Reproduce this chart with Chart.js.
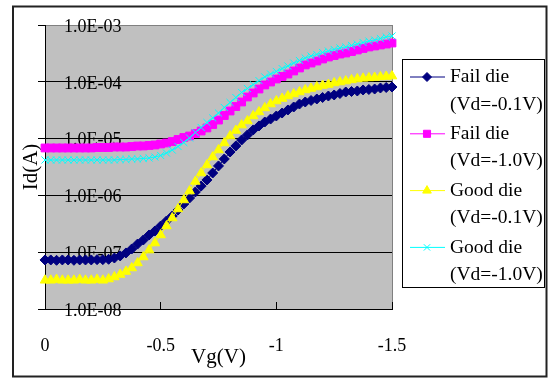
<!DOCTYPE html>
<html>
<head>
<meta charset="utf-8">
<script src="https://cdn.jsdelivr.net/npm/chart.js@4/dist/chart.umd.min.js"></script>
<style>
  html, body { margin: 0; padding: 0; background: #fff; }
  canvas { display: block; }
</style>
</head>
<body>
<canvas id="ivChart" width="552" height="378"></canvas>
<script>
// gate sweep, 0 to -1.5 V
var vg = [0, -0.025, -0.05, -0.075, -0.1, -0.125, -0.15, -0.175, -0.2, -0.225,
  -0.25, -0.275, -0.3, -0.325, -0.35, -0.375, -0.4, -0.425, -0.45, -0.475,
  -0.5, -0.525, -0.55, -0.575, -0.6, -0.625, -0.65, -0.675, -0.7, -0.725,
  -0.75, -0.775, -0.8, -0.825, -0.85, -0.875, -0.9, -0.925, -0.95, -0.975,
  -1, -1.025, -1.05, -1.075, -1.1, -1.125, -1.15, -1.175, -1.2, -1.225,
  -1.25, -1.275, -1.3, -1.325, -1.35, -1.375, -1.4, -1.425, -1.45, -1.475, -1.5];

// Id (A)
var failLow = [7.3e-8, 7.3e-8, 7.2e-8, 7.3e-8, 7.3e-8, 7.2e-8, 7.3e-8, 7.3e-8, 7.3e-8, 7.4e-8,
  7.4e-8, 7.5e-8, 7.9e-8, 8.6e-8, 9.7e-8, 1.14e-7, 1.39e-7, 1.64e-7, 2.01e-7, 2.36e-7,
  2.89e-7, 3.54e-7, 4.34e-7, 5.53e-7, 7.06e-7, 9.0e-7, 1.15e-6, 1.46e-6, 1.87e-6, 2.48e-6,
  3.30e-6, 4.38e-6, 5.81e-6, 7.41e-6, 9.45e-6, 1.16e-5, 1.42e-5, 1.67e-5, 1.96e-5, 2.21e-5,
  2.50e-5, 2.82e-5, 3.19e-5, 3.60e-5, 4.06e-5, 4.41e-5, 4.69e-5, 4.98e-5, 5.29e-5, 5.62e-5,
  5.86e-5, 6.22e-5, 6.61e-5, 6.75e-5, 6.89e-5, 7.18e-5, 7.32e-5, 7.46e-5, 7.78e-5, 7.94e-5, 8.10e-5];
var failHigh = [6.84e-6, 6.84e-6, 6.84e-6, 6.84e-6, 6.84e-6, 6.84e-6, 6.84e-6, 6.84e-6, 6.84e-6, 6.97e-6,
  6.97e-6, 6.97e-6, 7.11e-6, 7.11e-6, 7.11e-6, 7.26e-6, 7.41e-6, 7.41e-6, 7.57e-6, 7.72e-6,
  8.04e-6, 8.37e-6, 8.89e-6, 9.64e-6, 1.045e-5, 1.11e-5, 1.23e-5, 1.36e-5, 1.54e-5, 1.77e-5,
  2.12e-5, 2.55e-5, 3.06e-5, 3.67e-5, 4.41e-5, 5.40e-5, 6.35e-5, 7.46e-5, 8.79e-5, 9.91e-5,
  1.12e-4, 1.24e-4, 1.37e-4, 1.55e-4, 1.75e-4, 1.98e-4, 2.14e-4, 2.32e-4, 2.52e-4, 2.73e-4,
  2.90e-4, 3.08e-4, 3.21e-4, 3.41e-4, 3.63e-4, 3.86e-4, 4.10e-4, 4.27e-4, 4.45e-4, 4.62e-4, 4.82e-4];
var goodLow = [3.2e-8, 3.2e-8, 3.3e-8, 3.2e-8, 3.2e-8, 3.2e-8, 3.3e-8, 3.2e-8, 3.2e-8, 3.3e-8,
  3.2e-8, 3.37e-8, 3.66e-8, 4.05e-8, 4.57e-8, 5.27e-8, 6.46e-8, 8.23e-8, 1.09e-7, 1.45e-7,
  2.01e-7, 2.89e-7, 4.00e-7, 5.77e-7, 8.30e-7, 1.19e-6, 1.76e-6, 2.48e-6, 3.43e-6, 4.74e-6,
  6.30e-6, 8.37e-6, 1.11e-5, 1.39e-5, 1.73e-5, 2.04e-5, 2.50e-5, 2.94e-5, 3.46e-5, 4.06e-5,
  4.59e-5, 5.08e-5, 5.62e-5, 6.10e-5, 6.61e-5, 7.18e-5, 7.62e-5, 8.10e-5, 8.61e-5, 8.95e-5,
  9.53e-5, 9.91e-5, 1.03e-4, 1.08e-4, 1.12e-4, 1.15e-4, 1.17e-4, 1.19e-4, 1.22e-4, 1.24e-4, 1.26e-4];
var goodHigh = [4.20e-6, 4.20e-6, 4.20e-6, 4.20e-6, 4.20e-6, 4.20e-6, 4.20e-6, 4.20e-6, 4.20e-6, 4.20e-6,
  4.20e-6, 4.20e-6, 4.20e-6, 4.29e-6, 4.29e-6, 4.38e-6, 4.38e-6, 4.47e-6, 4.55e-6, 4.74e-6,
  5.04e-6, 5.57e-6, 6.30e-6, 7.26e-6, 8.53e-6, 1.025e-5, 1.28e-5, 1.57e-5, 1.92e-5, 2.31e-5,
  2.82e-5, 3.53e-5, 4.32e-5, 5.29e-5, 6.49e-5, 7.62e-5, 8.95e-5, 1.05e-4, 1.22e-4, 1.37e-4,
  1.52e-4, 1.71e-4, 1.90e-4, 2.14e-4, 2.37e-4, 2.62e-4, 2.84e-4, 3.03e-4, 3.28e-4, 3.48e-4,
  3.71e-4, 3.94e-4, 4.10e-4, 4.36e-4, 4.62e-4, 4.92e-4, 5.22e-4, 5.45e-4, 5.78e-4, 6.15e-4, 6.40e-4];

var seriesLabels = [['Fail die', '(Vd=-0.1V)'], ['Fail die', '(Vd=-1.0V)'],
                    ['Good die', '(Vd=-0.1V)'], ['Good die', '(Vd=-1.0V)']];
var yTicks = [1e-8, 1e-7, 1e-6, 1e-5, 1e-4, 1e-3];
var yTickLabels = ['1.0E-08', '1.0E-07', '1.0E-06', '1.0E-05', '1.0E-04', '1.0E-03'];
var xTicks = [-1.5, -1, -0.5, 0];
var xTickLabels = ['-1.5', '-1', '-0.5', '0'];

var serif = 'Liberation Serif';

function pts(ys) {
  return vg.map((v, i) => ({ x: v, y: ys[i] }));
}

// grey plot area + outer frame (Excel look)
var frame = {
  id: 'frame',
  beforeDraw(chart) {
    var ctx = chart.ctx, a = chart.chartArea;
    ctx.save();
    ctx.fillStyle = '#fff';
    ctx.fillRect(0, 0, chart.width, chart.height);
    ctx.strokeStyle = '#222';
    ctx.lineWidth = 2;
    ctx.strokeRect(13, 6.5, 533.5, 370);
    ctx.fillStyle = '#c0c0c0';
    ctx.fillRect(a.left, a.top, a.right - a.left, a.bottom - a.top);
    ctx.strokeStyle = '#808080';
    ctx.lineWidth = 1;
    ctx.strokeRect(a.left + 0.5, a.top + 0.5, a.right - a.left, a.bottom - a.top);
    ctx.restore();
  }
};

// legend with two-line labels
var legendBox = {
  id: 'legendBox',
  afterDraw(chart) {
    var ctx = chart.ctx;
    ctx.save();
    ctx.fillStyle = '#fff';
    ctx.fillRect(402, 59, 142, 228);
    ctx.strokeStyle = '#000';
    ctx.lineWidth = 1;
    ctx.strokeRect(402.5, 59.5, 142, 228);
    chart.data.datasets.forEach((ds, i) => {
      var y = 77 + i * 56.8;
      ctx.strokeStyle = ds.borderColor;
      ctx.lineWidth = 1;
      ctx.beginPath();
      ctx.moveTo(410, y);
      ctx.lineTo(445, y);
      ctx.stroke();
      ctx.fillStyle = ds.backgroundColor;
      Chart.helpers.drawPoint(ctx, {
        pointStyle: ds.pointStyle, radius: ds.pointRadius - 0.5, borderWidth: 1, rotation: 0
      }, 427, y);
      ctx.fillStyle = '#000';
      ctx.font = '19.5px "' + serif + '"';
      ctx.textBaseline = 'middle';
      ctx.textAlign = 'left';
      ctx.fillText(seriesLabels[i][0], 450, y);
      ctx.fillText(seriesLabels[i][1], 450, y + 27.5);
    });
    ctx.restore();
  }
};

var datasets = [
  { label: seriesLabels[0].join(' '), data: pts(failLow), borderColor: '#000080', backgroundColor: '#000080',
    pointStyle: 'rectRot', pointRadius: 5, order: 4 },
  { label: seriesLabels[1].join(' '), data: pts(failHigh), borderColor: '#ff00ff', backgroundColor: '#ff00ff',
    pointStyle: 'rect', pointRadius: 5.5, order: 3 },
  { label: seriesLabels[2].join(' '), data: pts(goodLow), borderColor: '#ffff00', backgroundColor: '#ffff00',
    pointStyle: 'triangle', pointRadius: 5.5, order: 2 },
  { label: seriesLabels[3].join(' '), data: pts(goodHigh), borderColor: '#00ffff', backgroundColor: '#00ffff',
    pointStyle: 'crossRot', pointRadius: 5, order: 1 }
];
datasets.forEach(d => {
  d.borderWidth = 1;
  d.pointBorderWidth = 1;
  d.tension = 0;
  d.clip = false;
});

new Chart(document.getElementById('ivChart'), {
  type: 'line',
  data: { datasets: datasets },
  options: {
    responsive: false,
    animation: false,
    events: [],
    devicePixelRatio: 1,
    layout: { padding: { left: 19, top: 25, right: 160, bottom: 8 } },
    plugins: { legend: { display: false }, tooltip: { enabled: false } },
    scales: {
      x: {
        type: 'linear', min: -1.5, max: 0, reverse: true,
        afterBuildTicks: s => { s.ticks = xTicks.map(v => ({ value: v })); },
        afterFit: s => { s.height = 61; s.paddingLeft = 0; s.paddingRight = 0; },
        border: { color: '#000', width: 1 },
        grid: { drawOnChartArea: false, drawTicks: true, tickLength: -7, color: '#000' },
        ticks: {
          padding: 33, maxRotation: 0, autoSkip: false, color: '#000',
          font: { family: serif, size: 18 },
          callback: v => xTickLabels[xTicks.indexOf(v)]
        },
        title: { display: true, text: 'Vg(V)', color: '#000', font: { family: serif, size: 21 }, padding: 0 }
      },
      y: {
        type: 'logarithmic', min: 1e-8, max: 1e-3,
        afterBuildTicks: s => { s.ticks = yTicks.map(v => ({ value: v })); },
        afterFit: s => { s.width = 26; s.paddingTop = 0; s.paddingBottom = 0; },
        border: { color: '#000', width: 1 },
        grid: {
          color: c => (c.tick && c.tick.value === 1e-3) ? '#808080' : '#000',
          tickColor: '#000', tickLength: 7, lineWidth: 1
        },
        ticks: {
          mirror: true, padding: 19, labelOffset: 2, color: '#000',
          font: { family: serif, size: 18 },
          callback: v => yTickLabels[yTicks.indexOf(v)]
        },
        title: { display: true, text: 'Id(A)', color: '#000', font: { family: serif, size: 21 }, padding: 0 }
      }
    }
  },
  plugins: [frame, legendBox]
});
</script>
</body>
</html>
